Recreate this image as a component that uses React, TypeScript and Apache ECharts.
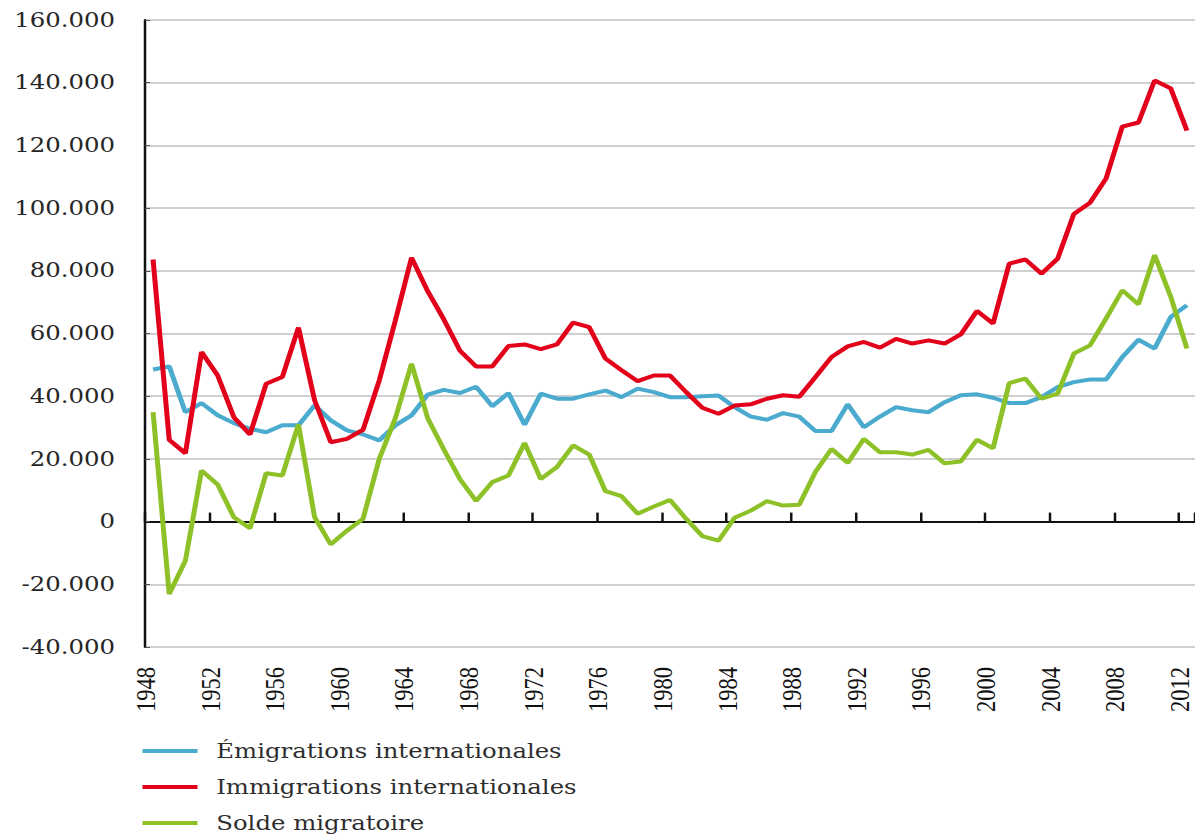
import React, { useEffect, useRef } from "react";
import * as echarts from "echarts";

const years = [
  "1948","1949","1950","1951","1952","1953","1954","1955","1956","1957",
  "1958","1959","1960","1961","1962","1963","1964","1965","1966","1967",
  "1968","1969","1970","1971","1972","1973","1974","1975","1976","1977",
  "1978","1979","1980","1981","1982","1983","1984","1985","1986","1987",
  "1988","1989","1990","1991","1992","1993","1994","1995","1996","1997",
  "1998","1999","2000","2001","2002","2003","2004","2005","2006","2007",
  "2008","2009","2010","2011","2012",
];

const emigrations = [
  48500, 49500, 34900, 37800, 33900, 31400, 29600, 28500, 30700, 30700,
  37100, 32300, 29100, 27800, 25900, 30700, 33900, 40500, 42000, 41000,
  43000, 36800, 41000, 30900, 40800, 39200, 39200, 40600, 41800, 39700,
  42400, 41300, 39700, 39700, 40000, 40200, 36500, 33500, 32500, 34600,
  33500, 28900, 28900, 37400, 30100, 33500, 36500, 35500, 34900, 38100,
  40300, 40600, 39500, 37800, 37800, 39700, 42900, 44500, 45300, 45300,
  52500, 58000, 55200, 65300, 69000,
];

const immigrations = [
  83600, 26100, 21800, 54100, 46600, 33300, 27800, 44000, 46100, 61900,
  38700, 25300, 26400, 29300, 45000, 64200, 84200, 73500, 64500, 54500,
  49500, 49500, 56000, 56500, 55000, 56500, 63500, 62000, 52000, 48300,
  44800, 46600, 46600, 41300, 36300, 34400, 37000, 37400, 39200, 40300,
  39800, 46100, 52500, 55900, 57300, 55500, 58300, 56800, 57800, 56800,
  59700, 67200, 63200, 82300, 83600, 79100, 83900, 98100, 101700, 109500,
  126000, 127300, 140700, 138200, 124700,
];

const solde = [
  34900, -23100, -12500, 16300, 11800, 1400, -2100, 15400, 14700, 31000,
  1400, -7300, -2900, 900, 20000, 33000, 50400, 33000, 23000, 13500,
  6600, 12600, 14700, 25100, 13600, 17400, 24300, 21400, 9700, 8100,
  2500, 4800, 6900, 900, -4600, -6100, 1200, 3500, 6500, 5100,
  5400, 15800, 23200, 18700, 26400, 22100, 22100, 21400, 22900, 18600,
  19200, 26100, 23400, 44200, 45600, 39200, 40800, 53600, 56200, 64800,
  73800, 69300, 85000, 71700, 55200,
];

const seriesNames = [
  "Émigrations internationales",
  "Immigrations internationales",
  "Solde migratoire",
];
const seriesColors = ["#4aabcf", "#e2001a", "#8dc127"];

const fmt = (v: number) => (v === 0 ? "0" : `${v / 1000}.000`);

export default function App() {
  const ref = useRef<HTMLDivElement>(null);

  useEffect(() => {
    if (!ref.current) return;
    const chart = echarts.init(ref.current, null, { renderer: "svg" });
    const dataSets = [emigrations, immigrations, solde];
    chart.setOption({
      animation: false,
      backgroundColor: "#ffffff",
      grid: { left: 116, top: 20, width: 842.5, bottom: 188, containLabel: false },
      legend: {
        orient: "vertical",
        left: 114,
        top: 741,
        padding: 0,
        icon: "rect",
        itemWidth: 44,
        itemHeight: 4,
        itemGap: 16,
        itemStyle: { borderWidth: 0 },
        textStyle: {
          fontFamily: "DejaVu Serif",
          fontSize: 19.5,
          color: "#2e2e2e",
          lineHeight: 20,
          padding: [0, 0, 0, 10],
        },
        data: seriesNames,
      },
      xAxis: [
        {
          type: "category",
          data: years,
          boundaryGap: true,
          position: "bottom",
          axisLine: { show: false, onZero: false },
          axisTick: { show: false },
          axisLabel: {
            interval: 3,
            rotate: 90,
            margin: 20,
            fontFamily: "Liberation Serif",
            fontSize: 22.5,
            color: "#111",
            lineHeight: 12,
            verticalAlign: "bottom",
          },
          splitLine: { show: false },
        },
        {
          type: "category",
          data: years,
          boundaryGap: true,
          position: "bottom",
          axisLine: { show: true, onZero: true, lineStyle: { color: "#111", width: 2 } },
          axisTick: {
            show: true,
            inside: true,
            interval: 3,
            length: 9,
            lineStyle: { color: "#111", width: 2 },
          },
          axisLabel: { show: false },
          splitLine: { show: false },
        },
      ],
      yAxis: {
        type: "value",
        min: -40000,
        max: 160000,
        interval: 20000,
        axisLine: { show: true, lineStyle: { color: "#111", width: 2 } },
        axisTick: { show: true, inside: true, length: 4, lineStyle: { color: "#555", width: 1 } },
        axisLabel: {
          formatter: fmt,
          margin: 24,
          fontFamily: "DejaVu Serif",
          fontSize: 19.5,
          color: "#262626",
        },
        splitLine: { show: true, lineStyle: { color: "#c0c0c0", width: 1.5 } },
      },
      series: dataSets.map((d, i) => ({
        name: seriesNames[i],
        type: "line",
        xAxisIndex: 0,
        data: d,
        symbol: "none",
        color: seriesColors[i],
        lineStyle: { width: 4, color: seriesColors[i] },
      })),
    });
    return () => chart.dispose();
  }, []);

  return (
    <div
      ref={ref}
      style={{
        position: "fixed",
        left: 0,
        top: 0,
        width: 956,
        height: 835,
        transform: "scaleX(1.25)",
        transformOrigin: "0 0",
        background: "#fff",
      }}
    />
  );
}
